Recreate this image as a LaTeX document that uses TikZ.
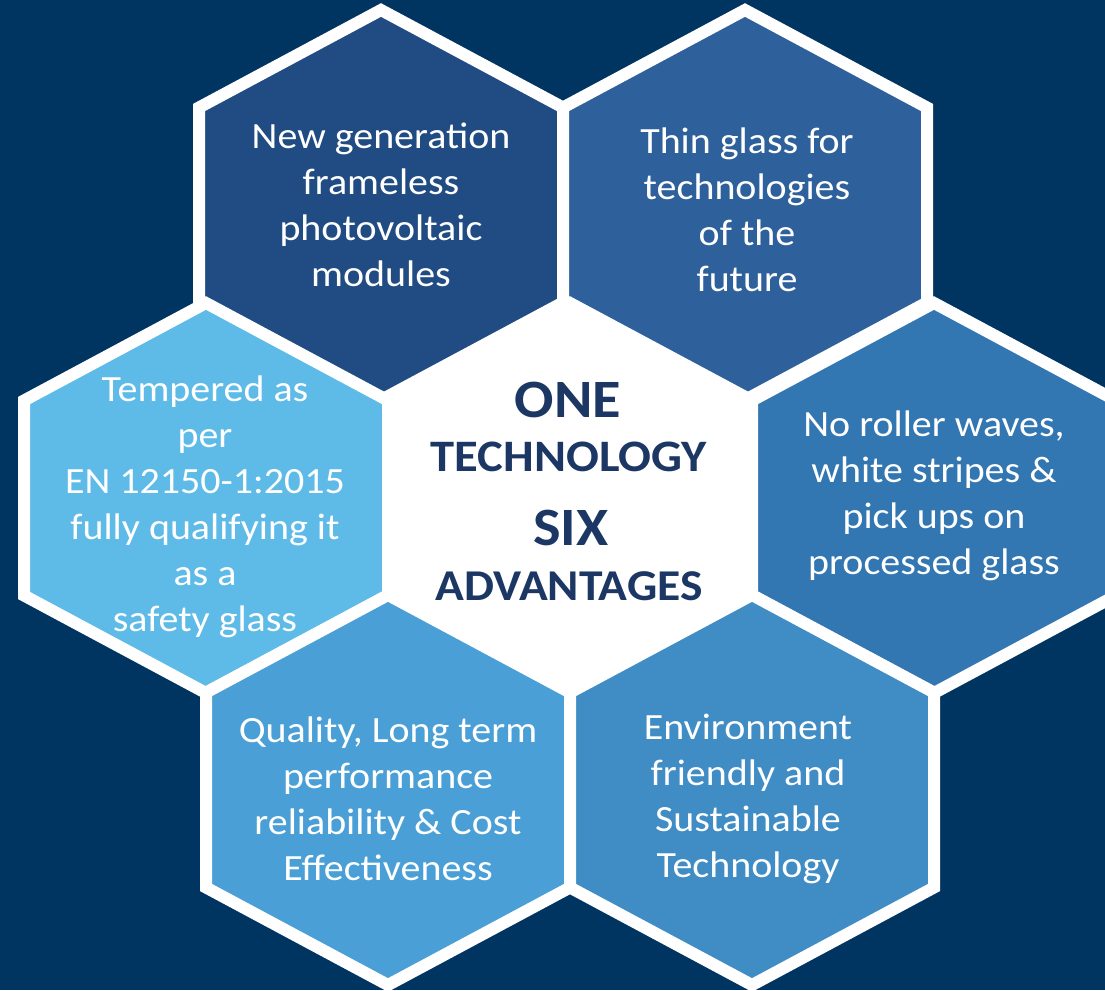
\documentclass[tikz,border=0pt]{standalone}
\usepackage{fontspec}
\setmainfont{Carlito}[FakeStretch=1.08]
\definecolor{bg}{HTML}{003461}
\definecolor{cTL}{HTML}{214C83}
\definecolor{cTR}{HTML}{2E609B}
\definecolor{cML}{HTML}{5EBBE8}
\definecolor{cMR}{HTML}{3276B2}
\definecolor{cBL}{HTML}{4AA0D6}
\definecolor{cBR}{HTML}{408CC5}
\definecolor{navytext}{HTML}{1C3764}
\newcommand\hexat[3]{\draw[hexcell=#3] ({#1-182},{#2-97.5}) -- (#1,{#2-195}) -- ({#1+182},{#2-97.5}) -- ({#1+182},{#2+97.5}) -- (#1,{#2+195}) -- ({#1-182},{#2+97.5}) -- cycle;}
\begin{document}
\begin{tikzpicture}[x=1pt,y=-1pt,
  hexcell/.style={fill=#1,draw=white,line width=12pt,line join=miter},
  body/.style={text=white,align=center,font=\fontsize{37}{46}\selectfont,inner sep=0pt},
  head/.style={text=navytext,font=\bfseries\fontsize{#1}{#1}\selectfont,inner sep=0pt}]
\fill[bg] (0,0) rectangle (1105,990);
\useasboundingbox (0,0) rectangle (1105,990);
\begin{scope}
\clip (0,0) rectangle (1105,990);
\hexat{381}{205}{cTL}
\hexat{745}{205}{cTR}
\hexat{206}{498}{cML}
\hexat{570}{498}{white}
\hexat{934}{498}{cMR}
\hexat{388}{790}{cBL}
\hexat{752}{790}{cBR}
\end{scope}
\node[body] (tl) at (381,205) {New generation\\frameless\\photovoltaic\\modules};
\node[body] (tr) at (747,210) {Thin glass for\\technologies\\of the\\future};
\node[body] (ml) at (205,507) {Tempered as\\per\\EN 12150-1:2015\\fully qualifying it\\as a\\safety glass};
\node[body] (mr) at (934,496) {No roller waves,\\white stripes \&\\pick ups on\\processed glass};
\node[body] (bl) at (388,799) {Quality, Long term\\performance\\reliability \& Cost\\Effectiveness};
\node[body] (br) at (748,799) {Environment\\friendly and\\Sustainable\\Technology};
\node[head=54] (one) at (568,400) {ONE};
\node[head=45] (tech) at (569,457) {TECHNOLOGY};
\node[head=54] (six) at (571,528) {SIX};
\node[head=44] (adv) at (569,586) {ADVANTAGES};
\end{tikzpicture}
\end{document}
